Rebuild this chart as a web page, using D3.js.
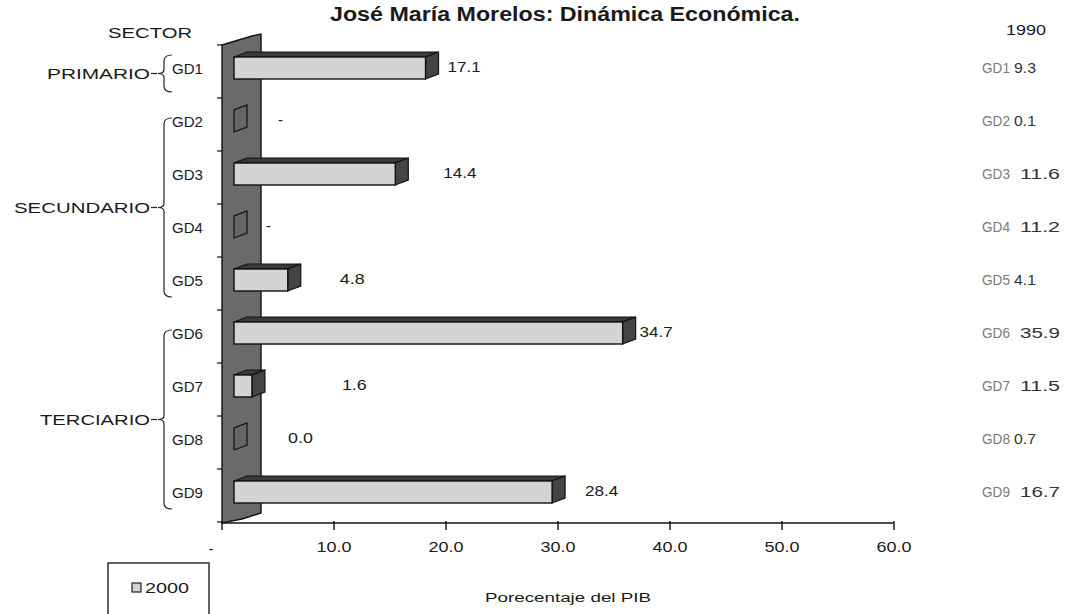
<!DOCTYPE html>
<html><head><meta charset="utf-8">
<script src="https://cdn.jsdelivr.net/npm/d3@7"></script>
<style>
html,body{margin:0;padding:0;background:#fff;}
text{font-family:"Liberation Sans",Arial,sans-serif;fill:#1a1a1a;}
</style></head>
<body><svg id="c" width="1076" height="614"></svg>
<script>
// ---------- data ----------
const categories = ["GD1","GD2","GD3","GD4","GD5","GD6","GD7","GD8","GD9"];
const values2000 = [17.1, 0, 14.4, 0, 4.8, 34.7, 1.6, 0, 28.4];
const labels2000 = ["17.1","-","14.4","-","4.8","34.7","1.6","0.0","28.4"];
const values1990 = [9.3, 0.1, 11.6, 11.2, 4.1, 35.9, 11.5, 0.7, 16.7];
const sectorNames = ["PRIMARIO","SECUNDARIO","TERCIARIO"];
const sectorOf = [0,1,1,1,1,2,2,2,2];
const xTicks = [0,10,20,30,40,50,60];
const xTickLabels = ["-","10.0","20.0","30.0","40.0","50.0","60.0"];
const titleText = "José María Morelos: Dinámica Económica.";
const axisTitle = "Porecentaje del PIB";
const seriesName = "2000";
const sideYear = "1990";
// label placement tweaks (px, relative to bar front end) as in the original
const labelNudge = [22, 44, 48, 32, 52, 17, 90, 54, 33];

// ---------- layout ----------
const svg = d3.select("#c");
const x = d3.scaleLinear().domain([0,60]).range([222,894]);
const y = d3.scaleBand().domain(categories).range([45,522]);
const depthX = 13, depthY = -5, frontOff = 12, barTop = 12, barH = 22;
const axisY = 523;

function txt(xp, yp, s, size, width, opts={}) {
  const t = svg.append("text").attr("x", xp).attr("y", yp + size*0.36)
    .attr("font-size", size).text(s);
  if (width) t.attr("textLength", width).attr("lengthAdjust","spacingAndGlyphs");
  if (opts.anchor) t.attr("text-anchor", opts.anchor);
  if (opts.weight) t.attr("font-weight", opts.weight);
  if (opts.fill) t.style("fill", opts.fill);
  return t;
}

// wall
const wallL = x(0), wallR = x(0)+39;
const y0 = y.range()[0];
svg.append("path")
  .attr("d", `M${wallL},${y0} L${wallL+10},${y0-3} L${wallL+20},${y0-6} L${wallL+30},${y0-9} L${wallR},${y0-11} L${wallR},${axisY-10} L${wallL+20},${axisY-4} L${wallL},${axisY} Z`)
  .attr("fill","#6a6a6a").attr("stroke","#111").attr("stroke-width",1.4);

// y ticks
const bounds = categories.map(c=>y(c)).concat([y.range()[1]]);
svg.selectAll(".yt").data(bounds).enter().append("line")
  .attr("x1", wallL-5).attr("x2", wallL).attr("y1", d=>d).attr("y2", d=>d)
  .attr("stroke","#111").attr("stroke-width",1.2);

// bars
const data = categories.map((c,i)=>({c, v:values2000[i], lab:labels2000[i], i}));
const g = svg.append("g");
data.forEach(d=>{
  const x0 = x(0)+frontOff, xr = x(d.v)+frontOff;
  const t = y(d.c)+barTop;
  g.append("path").attr("d",`M${x0},${t} L${x0+depthX},${t+depthY} L${xr+depthX},${t+depthY} L${xr},${t} Z`)
    .attr("fill","#3a3a3a").attr("stroke","#111").attr("stroke-width",1.2);
  g.append("path").attr("d",`M${xr},${t} L${xr+depthX},${t+depthY} L${xr+depthX},${t+depthY+barH} L${xr},${t+barH} Z`)
    .attr("fill", d.v>0 ? "#444" : "#666").attr("stroke","#111").attr("stroke-width",1.2);
  if (d.v>0) g.append("rect").attr("x",x0).attr("y",t).attr("width",xr-x0).attr("height",barH)
    .attr("fill","#d4d4d4").attr("stroke","#111").attr("stroke-width",1.4);
  txt(x(d.v)+frontOff+labelNudge[d.i], t+barH/2-1, d.lab, 15, d.lab.length>1 ? d.lab.length*8.3 : null);
});

// x axis
svg.append("line").attr("x1",x(0)).attr("x2",x(60)).attr("y1",axisY).attr("y2",axisY)
  .attr("stroke","#111").attr("stroke-width",1.6);
xTicks.forEach((v,i)=>{
  svg.append("line").attr("x1",x(v)).attr("x2",x(v)).attr("y1",axisY-2).attr("y2",axisY+7)
    .attr("stroke","#111").attr("stroke-width",1.4);
  if (v===0) txt(x(v)-11, axisY+26, xTickLabels[i], 15, null, {anchor:"middle"});
  else txt(x(v), axisY+24, xTickLabels[i], 15, 35, {anchor:"middle"});
});
txt(485, 598, axisTitle, 12, 166);

// title
txt(330, 14, titleText, 20, 470, {weight:"bold"});
txt(108, 33, "SECTOR", 15, 84);

// category labels
categories.forEach(c=>{
  txt(172, y(c)+y.bandwidth()/2-3, c, 15, 31);
});

// sector braces
sectorNames.forEach((s,k)=>{
  const members = categories.filter((c,i)=>sectorOf[i]===k);
  const top = y(members[0]) + (members.length>1 ? 20 : 10);
  const bot = y(members[members.length-1]) + y.bandwidth() - (members.length>1 ? 13 : 6);
  const mid = (top+bot)/2;
  const xm = 164, xt = 158, xe = 172;
  svg.append("path")
    .attr("d",`M${xe},${top} Q${xm},${top} ${xm},${top+6} L${xm},${mid-4} Q${xm},${mid} ${xt},${mid} Q${xm},${mid} ${xm},${mid+4} L${xm},${bot-6} Q${xm},${bot} ${xe},${bot}`)
    .attr("fill","none").attr("stroke","#222").attr("stroke-width",1.2);
  const w = {PRIMARIO:103, SECUNDARIO:136, TERCIARIO:110}[s];
  txt(150-w, mid, s, 15, w);
  svg.append("line").attr("x1",151).attr("x2",157).attr("y1",mid).attr("y2",mid)
    .attr("stroke","#222").attr("stroke-width",1.2);
});

// right column 1990
txt(1006, 30, sideYear, 15, 40);
categories.forEach((c,i)=>{
  const yy = y(c)+y.bandwidth()/2-4;
  txt(982, yy, c, 15, 28, {fill:"#7a7a7a"});
  const s = values1990[i].toFixed(1);
  txt(s.length>3 ? 1020 : 1014, yy, s, 15, s.length>3 ? 40 : 22, {fill:"#333"});
});

// legend
svg.append("rect").attr("x",108).attr("y",563).attr("width",101).attr("height",60)
  .attr("fill","none").attr("stroke","#222").attr("stroke-width",1.4);
svg.append("rect").attr("x",132).attr("y",583).attr("width",9).attr("height",9)
  .attr("fill","#d4d4d4").attr("stroke","#222").attr("stroke-width",1.2);
txt(145, 588, seriesName, 15, 44);
</script></body></html>
